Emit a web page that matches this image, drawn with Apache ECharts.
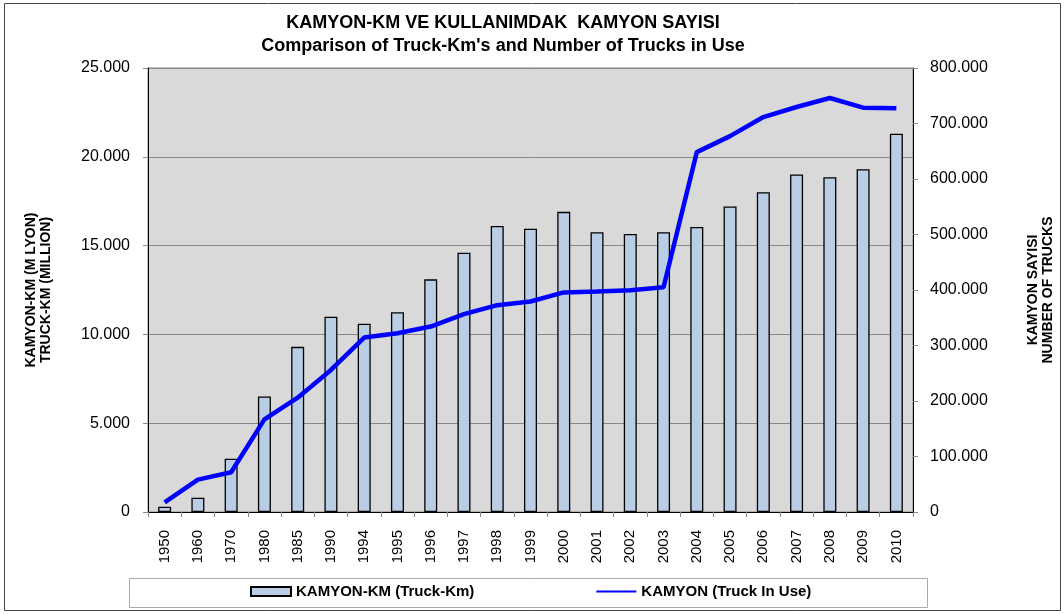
<!DOCTYPE html>
<html>
<head>
<meta charset="utf-8">
<script src="https://cdn.jsdelivr.net/npm/echarts@6/dist/echarts.min.js"></script>
<style>
  html, body { margin: 0; padding: 0; background: #fff; }
  #chart { width: 1064px; height: 614px; }
</style>
</head>
<body>
<div id="chart"></div>
<script>
var years = ['1950', '1960', '1970', '1980', '1985', '1990', '1994', '1995', '1996', '1997', '1998',
    '1999', '2000', '2001', '2002', '2003', '2004', '2005', '2006', '2007', '2008', '2009', '2010'];
// truck-km, million
var truckKm = [300, 800, 3000, 6500, 9300, 11000, 10600, 11250, 13100, 14600, 16100,
    15950, 16900, 15750, 15650, 15750, 16050, 17200, 18000, 19000, 18850, 19300, 21300];
// number of trucks in use
var trucks = [17500, 58400, 71600, 166800, 205900, 255900, 314300, 322100, 334100, 356400, 372700,
    379300, 395600, 397300, 399700, 405100, 648400, 677300, 711600, 729700, 745900, 728500, 727300];

function fmt(v) {
    return String(v).replace(/\B(?=(\d{3})+(?!\d))/g, '.');
}

var chart = echarts.init(document.getElementById('chart'));
var font = 'Arial, "Liberation Sans", sans-serif';

var option = {
    animation: false,
    backgroundColor: '#fff',
    title: {
        text: "KAMYON-KM VE KULLANIMDAK  KAMYON SAYISI\nComparison of Truck-Km's and Number of Trucks in Use",
        left: 498,
        top: 7,
        textAlign: 'center',
        textStyle: { fontFamily: font, fontSize: 18, fontWeight: 'bold', color: '#000', lineHeight: 23 }
    },
    graphic: [{
        type: 'rect',
        shape: { x: 4.5, y: 3.5, width: 1056, height: 607 },
        style: { fill: null, stroke: '#444', lineWidth: 1 },
        silent: true
    }, {
        type: 'rect',
        shape: { x: 129.5, y: 578.5, width: 798, height: 29 },
        style: { fill: null, stroke: '#aaa', lineWidth: 1 },
        silent: true
    }],
    legend: {
        left: 245,
        top: 579,
        itemGap: 122,
        itemWidth: 40,
        itemHeight: 9,
        textStyle: { fontFamily: font, fontSize: 15, fontWeight: 'bold', color: '#000' },
        data: [
            { name: 'KAMYON-KM (Truck-Km)', icon: 'rect' },
            { name: 'KAMYON (Truck In Use)', icon: 'path://M0,0L40,0L40,2L0,2Z', lineStyle: { width: 2.5 } }
        ]
    },
    grid: {
        left: 148, right: 151, top: 68, bottom: 102,
        outerBoundsMode: 'none',
        containLabel: false,
        show: true,
        backgroundColor: '#d9d9d9',
        borderColor: '#888',
        borderWidth: 1
    },
    xAxis: {
        type: 'category',
        data: years,
        axisLine: { lineStyle: { color: '#000', width: 1 } },
        axisTick: { show: true, length: 5, lineStyle: { color: '#888' } },
        axisLabel: { rotate: 90, margin: 18, fontFamily: font, fontSize: 15, color: '#000' }
    },
    yAxis: [{
        type: 'value',
        min: 0, max: 25000, interval: 5000,
        name: 'KAMYON-KM (M LYON)\nTRUCK-KM (MILLION)',
        nameLocation: 'middle',
        nameRotate: 90,
        nameGap: 94,
        nameTextStyle: { fontFamily: font, fontSize: 14, fontWeight: 'bold', color: '#000', lineHeight: 15 },
        axisLine: { show: true, lineStyle: { color: '#000' } },
        axisTick: { show: true, length: 5, lineStyle: { color: '#888' } },
        axisLabel: { margin: 18, fontFamily: font, fontSize: 16, color: '#000', formatter: fmt },
        splitLine: { show: true, lineStyle: { color: '#888', width: 1 } }
    }, {
        type: 'value',
        min: 0, max: 800000, interval: 100000,
        position: 'right',
        name: 'KAMYON SAYISI\nNUMBER OF TRUCKS',
        nameLocation: 'middle',
        nameRotate: 90,
        nameGap: 113,
        nameTextStyle: { fontFamily: font, fontSize: 14, fontWeight: 'bold', color: '#000', lineHeight: 15 },
        axisLine: { show: true, lineStyle: { color: '#000' } },
        axisTick: { show: true, length: 5, lineStyle: { color: '#888' } },
        axisLabel: { margin: 17, fontFamily: font, fontSize: 16, color: '#000', formatter: fmt },
        splitLine: { show: false }
    }],
    series: [{
        name: 'KAMYON-KM (Truck-Km)',
        type: 'bar',
        yAxisIndex: 0,
        barWidth: 13,
        itemStyle: { color: '#b9cde5', borderColor: '#000', borderWidth: 1.3 },
        data: truckKm
    }, {
        name: 'KAMYON (Truck In Use)',
        type: 'line',
        yAxisIndex: 1,
        symbol: 'none',
        itemStyle: { color: '#0000ff' },
        lineStyle: { color: '#0000ff', width: 4.5 },
        data: trucks
    }]
};

chart.setOption(option);
</script>
</body>
</html>
